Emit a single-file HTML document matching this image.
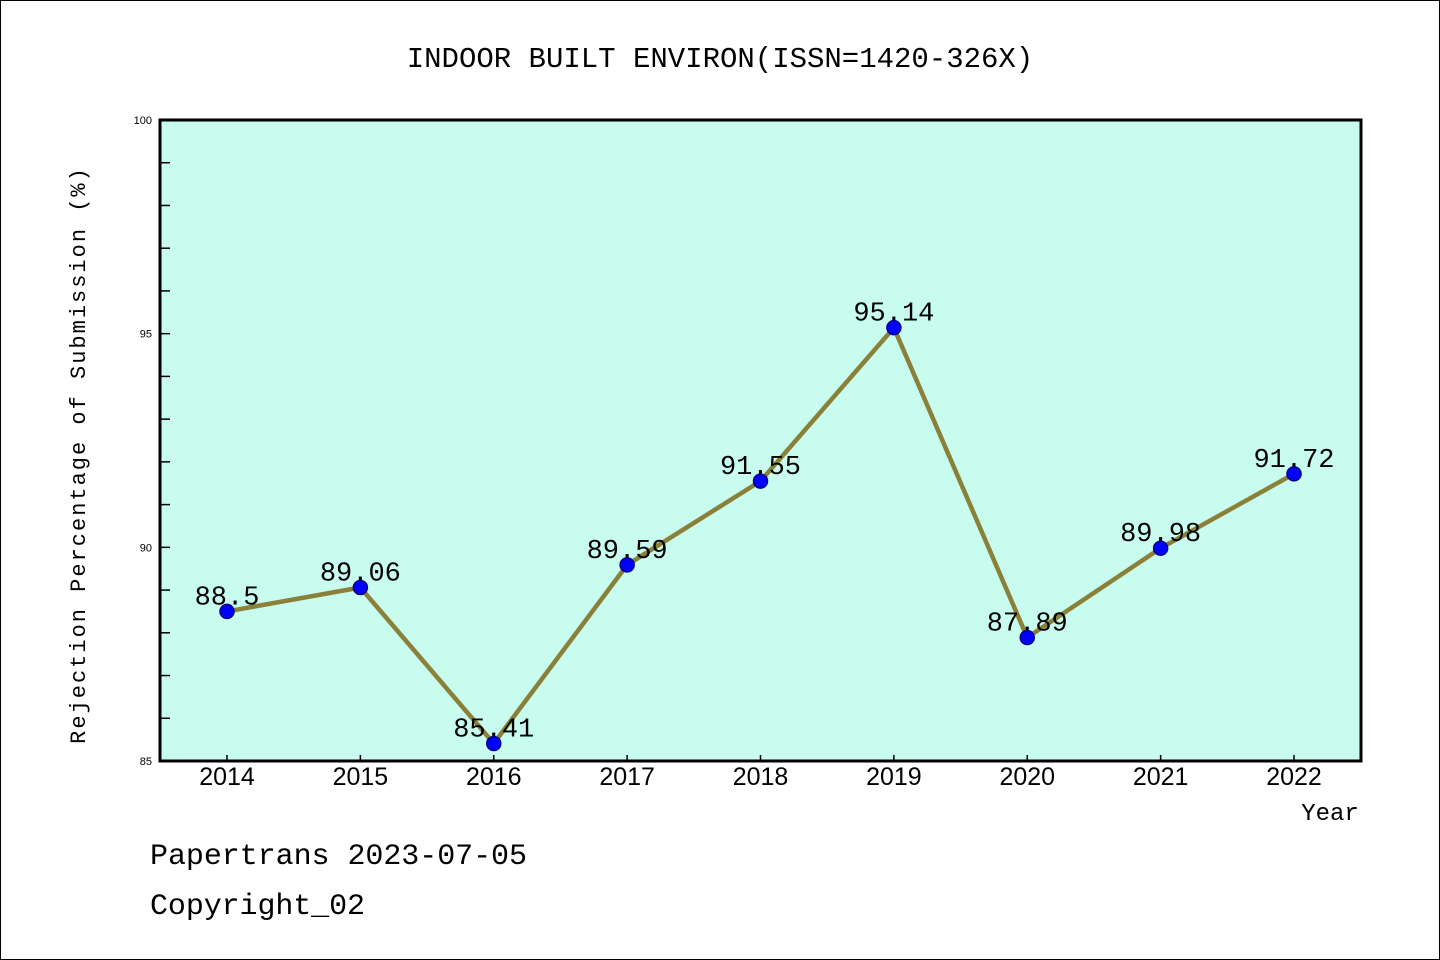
<!DOCTYPE html>
<html><head><meta charset="utf-8"><style>
body{margin:0;background:#fff}
svg{display:block}
.m{font-family:"Liberation Mono","WenQuanYi Zen Hei",monospace}
.s{font-family:"Liberation Sans",sans-serif}
</style></head><body>
<svg id="c" width="1440" height="960" xmlns="http://www.w3.org/2000/svg">
<rect x="0.5" y="0.5" width="1439" height="959" fill="#fff" stroke="#000"/>
<text class="m" x="720" y="67" font-size="29" text-anchor="middle">INDOOR BUILT ENVIRON(ISSN=1420-326X)</text>
<rect x="160" y="120" width="1201" height="641" fill="#c8fcee"/>
<g id="g"></g>
<rect x="160" y="120" width="1201" height="641" fill="none" stroke="#000" stroke-width="3"/>
<text class="m" x="85" y="455" font-size="22" text-anchor="middle" transform="rotate(-90 85 455)" letter-spacing="2">Rejection Percentage of Submission (%)</text>
<text class="m" x="1330" y="820" font-size="24" text-anchor="middle">Year</text>
<text class="m" x="150" y="864" font-size="30" textLength="377">Papertrans 2023-07-05</text>
<text class="m" x="150" y="914" font-size="30" textLength="215">Copyright_02</text>
</svg>
<script>
const years=["2014","2015","2016","2017","2018","2019","2020","2021","2022"];
const values=[88.5,89.06,85.41,89.59,91.55,95.14,87.89,89.98,91.72];
const labels=["88.5","89.06","85.41","89.59","91.55","95.14","87.89","89.98","91.72"];
const yTicks=[85,90,95,100];
const NS="http://www.w3.org/2000/svg";
const g=document.getElementById('g');
const x=i=>227+i*(1294-227)/(years.length-1);
const y=v=>761-(v-85)*(641/15);
function mk(t,a){const e=document.createElementNS(NS,t);for(const k in a)e.setAttribute(k,a[k]);g.appendChild(e);return e;}
for(let v=86;v<100;v++){const l=mk('line',{x1:160,x2:170,y1:y(v),y2:y(v),stroke:'#000','stroke-width':1.5});

}
yTicks.forEach(v=>{const t=mk('text',{x:152,y:y(v)+4,'font-size':11,'text-anchor':'end',class:'s'});t.textContent=v;

});
years.forEach((yr,i)=>{const l=mk('line',{x1:x(i),x2:x(i),y1:761,y2:755,stroke:'#000','stroke-width':1.5});


const t=mk('text',{x:x(i),y:785,'font-size':25,'text-anchor':'middle',class:'s'});t.textContent=yr;

});
const p=mk('polyline',{points:values.map((v,i)=>x(i)+','+y(v)).join(' '),fill:'none',stroke:'#8b8038','stroke-width':4.5,'stroke-linejoin':'round'});


values.forEach((v,i)=>{const t=mk('text',{x:x(i),y:y(v)-7,'font-size':27,'text-anchor':'middle',class:'m'});t.textContent=labels[i];


const c=mk('circle',{cx:x(i),cy:y(v),r:7,fill:'#0000ff',stroke:'#00008b','stroke-width':1.5});

});
</script>
</body></html>
